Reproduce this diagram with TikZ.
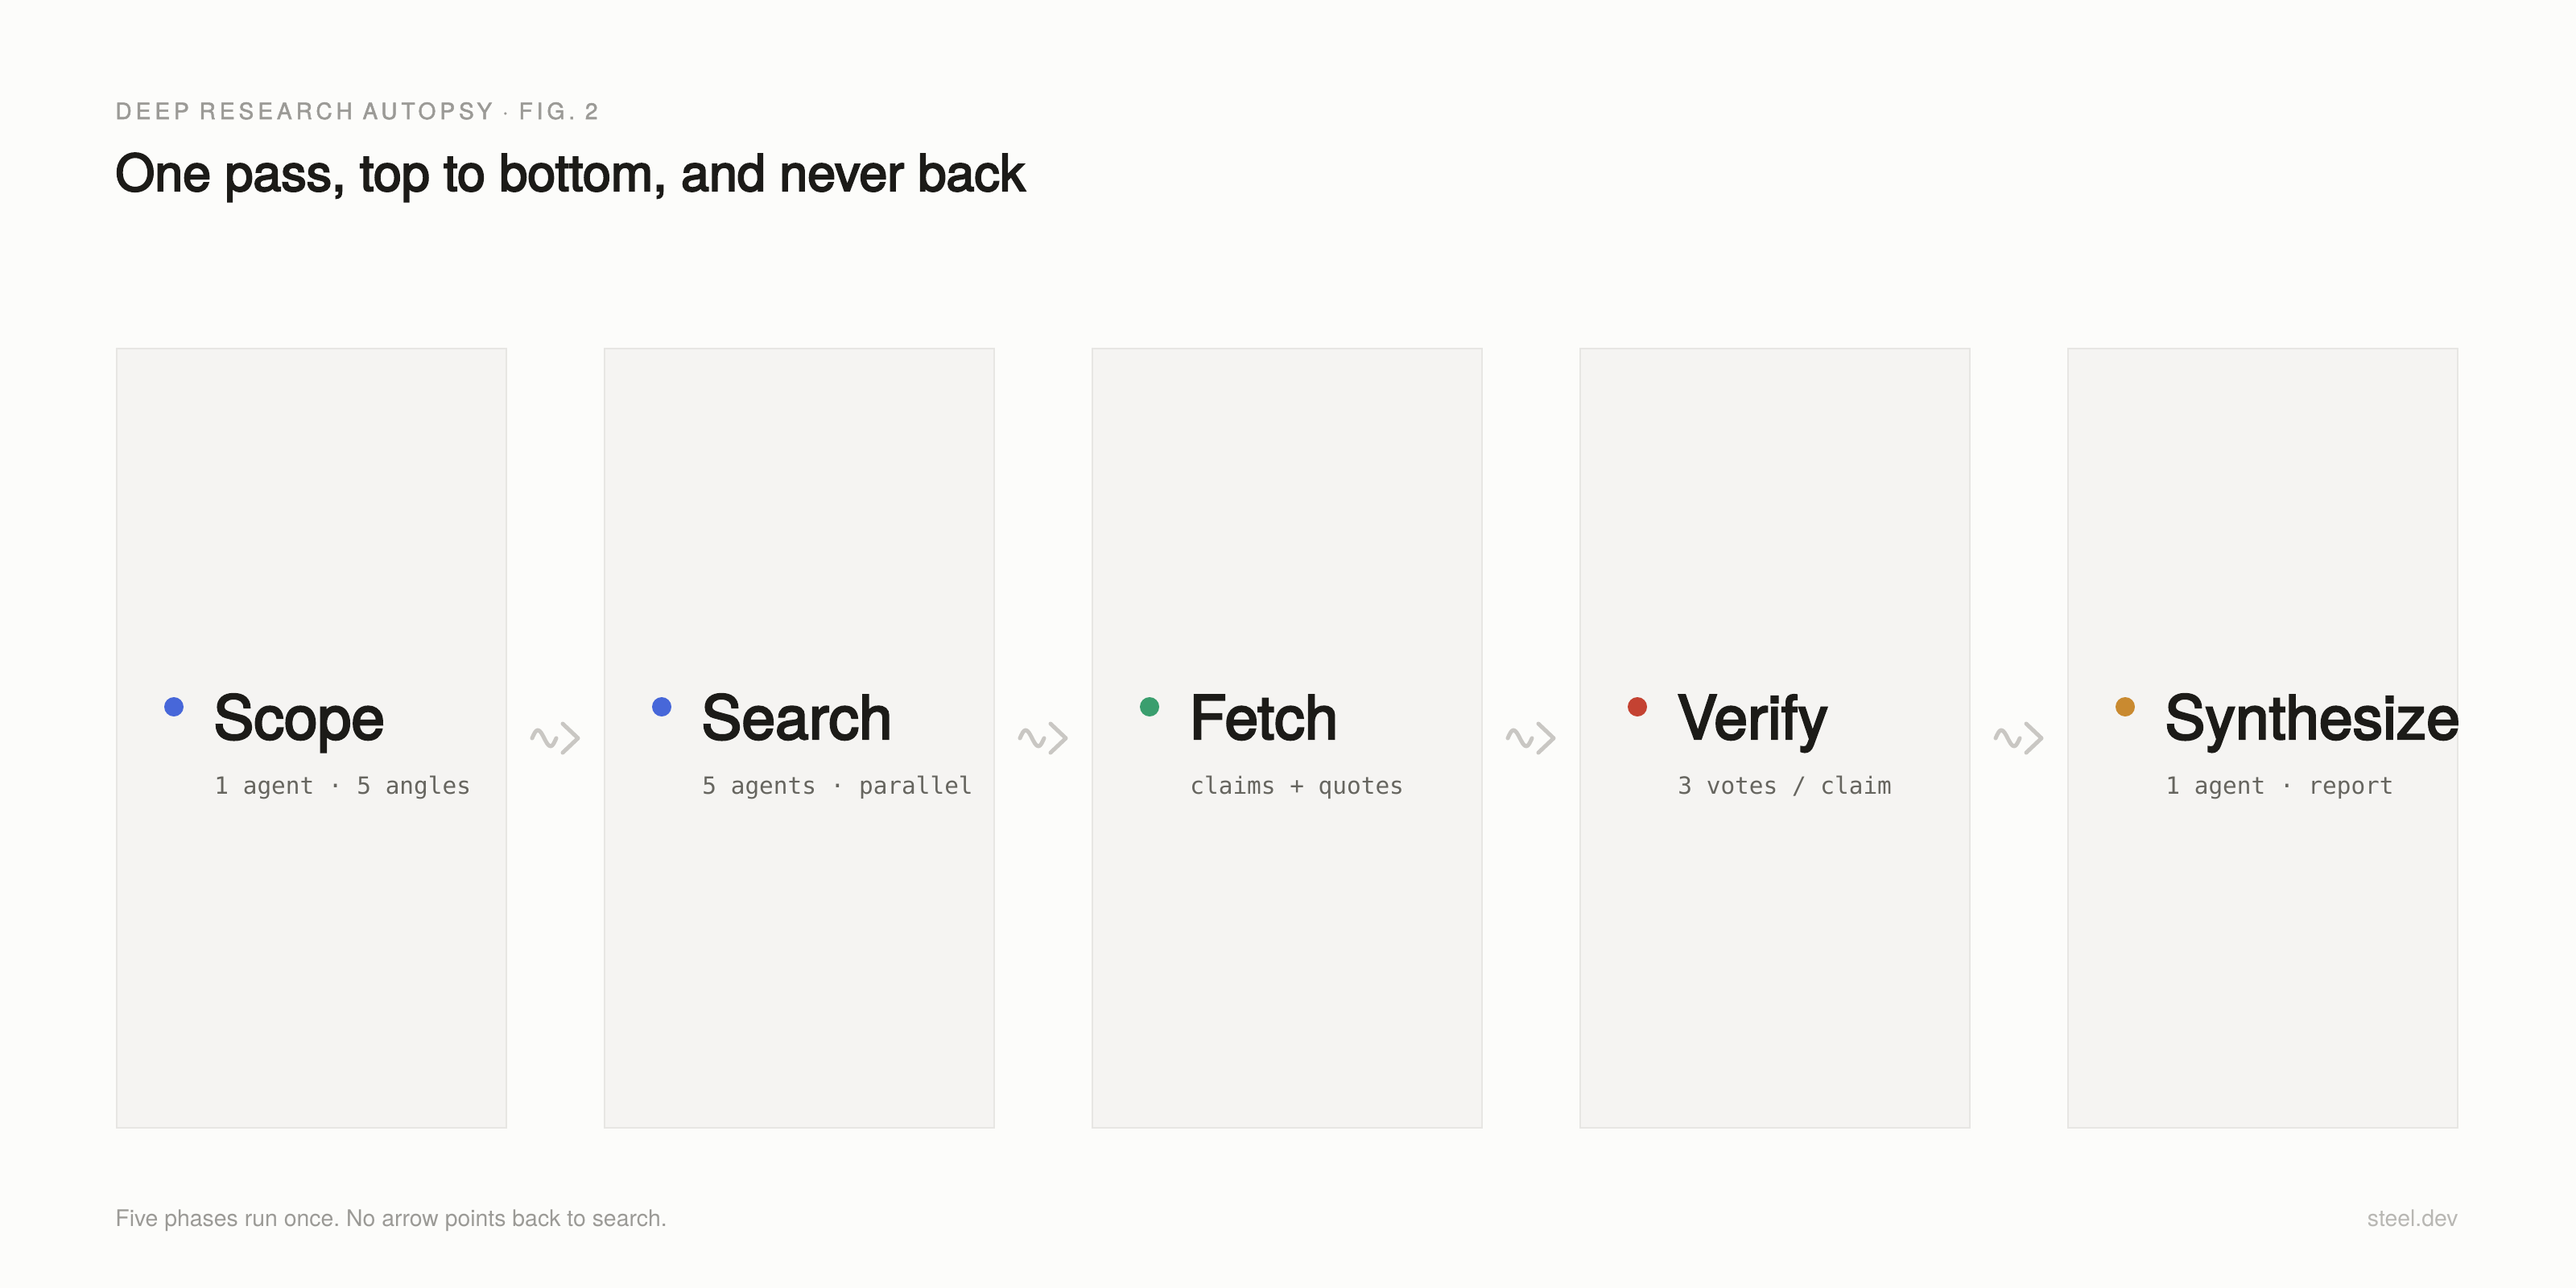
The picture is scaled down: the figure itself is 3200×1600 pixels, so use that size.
\documentclass[tikz,border=0pt]{standalone}
\usepackage{fontspec}
\setmainfont{TeX Gyre Heros}
\setmonofont{DejaVu Sans Mono}
\newfontfamily\hdrfont[LetterSpace=18,FakeBold=1.8]{TeX Gyre Heros}
\newfontfamily\medfont[FakeBold=3.2]{TeX Gyre Heros}
\definecolor{bg}{HTML}{FCFCFA}
\definecolor{boxfill}{HTML}{F5F4F2}
\definecolor{boxline}{HTML}{E7E6E3}
\definecolor{ink}{HTML}{1C1B18}
\definecolor{subgray}{HTML}{66655F}
\definecolor{hdrgray}{HTML}{9B9A96}
\definecolor{footgray}{HTML}{9B9A96}
\definecolor{brandgray}{HTML}{B8B7B3}
\definecolor{arrowgray}{HTML}{C9C7C3}
\definecolor{dotblue}{HTML}{4767D9}
\definecolor{dotgreen}{HTML}{3A9E6E}
\definecolor{dotred}{HTML}{C44232}
\definecolor{dotorange}{HTML}{C98A30}
\begin{document}
\frenchspacing
\begin{tikzpicture}[x=0.5pt,y=-0.5pt,
  phase/.style={draw=boxline, fill=boxfill, line width=1pt, minimum width=242pt, minimum height=484pt, inner sep=0pt, anchor=north west},
  dot/.style={circle, inner sep=0pt, minimum size=12pt},
  ttl/.style={anchor=base west, inner sep=0pt, text=ink, font=\medfont\fontsize{37.5pt}{40pt}\selectfont},
  sub/.style={anchor=base west, inner sep=0pt, text=subgray, font=\ttfamily\fontsize{14.7pt}{17pt}\selectfont},
  flow/.style={draw=arrowgray, line width=2.5pt, line cap=round, line join=round},
  txt/.style={inner sep=0pt},
]
\fill[bg] (0,0) rectangle (3200,1600);
\useasboundingbox (0,0) rectangle (3200,1600);

% header
\node[txt, anchor=base west, text=hdrgray, font=\hdrfont\fontsize{14pt}{16pt}\selectfont] (kicker) at (143,148) {DEEP RESEARCH AUTOPSY · FIG. 2};
\node[txt, anchor=base west, text=ink, font=\medfont\fontsize{31.4pt}{36pt}\selectfont] (headline) at (143,237) {One pass, top to bottom, and never back};

% phase boxes
\node[phase] (b1) at (144,432) {};
\node[phase] (b2) at (750,432) {};
\node[phase] (b3) at (1356,432) {};
\node[phase] (b4) at (1962,432) {};
\node[phase] (b5) at (2568,432) {};

% dots
\node[dot, fill=dotblue]   (d1) at (216,878) {};
\node[dot, fill=dotblue]   (d2) at (822,878) {};
\node[dot, fill=dotgreen]  (d3) at (1428,878) {};
\node[dot, fill=dotred]    (d4) at (2034,878) {};
\node[dot, fill=dotorange] (d5) at (2640,878) {};

% titles
\node[ttl] (t1) at (265,918) {Scope};
\node[ttl] (t2) at (871,918) {Search};
\node[ttl] (t3) at (1477,918) {Fetch};
\node[ttl] (t4) at (2083,918) {Verify};
\node[ttl] (t5) at (2689,918) {Synthesize};

% subtitles
\node[sub] (s1) at (266,986) {1 agent · 5 angles};
\node[sub] (s2) at (872,986) {5 agents · parallel};
\node[sub] (s3) at (1478,986) {claims + quotes};
\node[sub] (s4) at (2084,986) {3 votes / claim};
\node[sub] (s5) at (2690,986) {1 agent · report};

% connectors
\foreach \a/\b in {b1/b2,b2/b3,b3/b4,b4/b5}{
  \path (\a.east) -- (\b.west) coordinate[midway] (m\a);
  \begin{scope}[shift={(m\a)}]
    \draw[flow] (-29,0) sin (-22,-10) cos (-14,0) sin (-6,10) cos (1,0);
    \draw[flow] (9,-18) -- (28,0) -- (9,18);
  \end{scope}
}

% footer
\node[txt, anchor=base west, text=footgray, font=\fontsize{14.2pt}{16pt}\selectfont] (note) at (143,1523) {Five phases run once. No arrow points back to search.};
\node[txt, anchor=base east, text=brandgray, font=\fontsize{14.2pt}{16pt}\selectfont] (brand) at (3054,1523) {steel.dev};
\end{tikzpicture}
\end{document}
